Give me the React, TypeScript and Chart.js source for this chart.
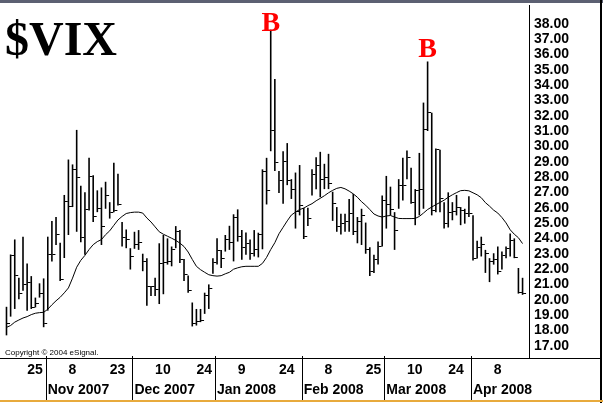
import React, { useEffect, useRef } from 'react';
import { Chart, registerables } from 'chart.js';

Chart.register(...registerables);

// ---- data (bar index 0 = 18 Oct 2007, daily bars to 17 Apr 2008) ----
const highs = [
  19.55, 22.96, 23.94, 21.44, 24.12, 22.38, 21.55, 20.15, 21.08, 21.4,
  24.12, 25.15, 25.4, 23.73, 26.84, 29.15, 28.83, 31.08, 27.44, 27.01,
  29.26, 28.12, 27.14, 27.33, 27.7, 26.37, 28.94, 28.23, 25.08, 24.59,
  23.37, 24.44, 24.55, 23.01, 22.72, 20.9, 21.44, 23.69, 24.23, 24.01,
  23.48, 24.81, 24.55, 22.66, 21.59, 19.83, 19.41, 19.41, 20.47, 21.01,
  22.72, 24.01, 23.26, 24.23, 24.83, 25.58, 25.9, 24.55, 24.4, 23.94,
  24.55, 24.38, 28.51, 29.26, 37.61, 34.4, 28.4, 29.69, 30.22, 27.87,
  28.3, 28.79, 26.0, 26.0, 28.51, 29.3, 29.65, 28.87, 29.52, 27.05,
  26.05, 25.62, 25.62, 26.58, 26.9, 25.4, 25.94, 25.04, 23.43, 22.94,
  23.8, 26.8, 28.08, 27.38, 25.72, 27.87, 29.26, 29.73, 28.62, 27.22,
  29.58, 32.86, 35.54, 32.2, 29.86, 29.79, 26.37, 27.01, 26.37, 26.84,
  26.05, 25.94, 26.75, 25.51, 23.86, 24.12, 23.26, 22.72, 23.04, 23.48,
  23.15, 23.48, 24.33, 24.01, 22.08, 21.44,
];

const lows = [
  17.69, 18.91, 19.41, 20.05, 20.6, 19.3, 19.41, 19.51, 20.15, 18.22,
  19.3, 22.51, 23.58, 21.23, 22.73, 24.23, 26.05, 24.44, 23.75, 22.94,
  25.83, 25.08, 25.72, 23.58, 25.94, 25.3, 25.72, 26.15, 23.48, 23.37,
  21.98, 23.33, 23.26, 21.87, 19.62, 20.26, 20.26, 19.73, 20.37, 22.3,
  22.19, 23.37, 22.4, 21.23, 20.47, 18.27, 18.33, 18.55, 19.09, 19.41,
  21.7, 22.3, 22.08, 23.15, 23.26, 22.51, 23.8, 22.62, 22.94, 22.62,
  22.83, 22.77, 23.3, 26.22, 29.69, 28.4, 26.97, 26.26, 27.48, 26.58,
  24.65, 25.51, 23.97, 24.82, 26.8, 27.22, 26.69, 27.22, 27.22, 25.15,
  24.44, 24.27, 24.44, 24.44, 24.23, 23.69, 23.58, 23.01, 21.55, 21.76,
  22.3, 23.48, 24.65, 25.51, 23.26, 25.94, 26.48, 27.87, 26.26, 24.87,
  25.51, 25.94, 31.01, 25.51, 25.72, 25.72, 24.65, 24.72, 25.19, 25.51,
  24.87, 24.97, 25.4, 22.56, 22.7, 22.83, 21.76, 21.16, 22.3, 21.66,
  21.98, 22.72, 22.83, 22.72, 20.41, 20.33,
];

const closes = [
  18.46, 22.9, 21.59, 20.41, 21.0, 21.12, 19.51, 19.77, 20.4, 18.48,
  22.98, 22.94, 24.29, 21.34, 26.41, 26.11, 28.47, 28.0, 24.05, 25.9,
  28.04, 25.45, 25.98, 24.81, 26.8, 25.72, 25.83, 26.22, 24.05, 23.95,
  22.83, 23.58, 23.75, 22.51, 20.9, 20.85, 20.69, 22.4, 22.45, 22.51,
  23.26, 24.48, 22.66, 21.66, 20.58, 18.44, 18.59, 18.66, 20.26, 20.76,
  22.45, 23.2, 22.72, 23.91, 23.75, 25.4, 24.12, 23.41, 23.65, 23.01,
  23.26, 24.23, 28.4, 27.12, 31.01, 28.98, 27.76, 29.05, 27.76, 27.22,
  25.77, 26.16, 24.1, 25.29, 28.19, 28.73, 27.87, 27.97, 27.59, 26.26,
  24.76, 24.97, 25.08, 25.62, 24.44, 25.08, 25.51, 23.26, 21.87, 22.62,
  23.48, 26.48, 26.22, 25.9, 24.55, 27.44, 27.44, 29.26, 26.37, 27.1,
  27.22, 31.08, 32.2, 25.8, 29.8, 26.6, 25.0, 25.68, 25.77, 26.0,
  25.83, 25.62, 25.62, 22.72, 23.4, 23.62, 23.04, 22.51, 22.62, 21.87,
  22.9, 23.37, 23.9, 22.77, 20.47, 20.4,
];

const movingAvg = [
  18.21, 18.33, 18.55, 18.69, 18.82, 18.91, 19.04, 19.13, 19.17, 19.19,
  19.39, 19.68, 19.94, 20.17, 20.46, 20.78, 21.42, 22.13, 22.58, 22.9,
  23.28, 23.6, 23.8, 23.93, 24.25, 24.5, 24.86, 25.21, 25.44, 25.63,
  25.69, 25.72, 25.72, 25.66, 25.34, 25.08, 24.76, 24.44, 24.28, 24.15,
  24.02, 23.88, 23.7, 23.48, 23.12, 22.64, 22.19, 21.97, 21.8, 21.64,
  21.58, 21.55, 21.58, 21.7, 21.8, 22.0, 22.09, 22.16, 22.19, 22.19,
  22.19, 22.19, 22.38, 22.77, 23.28, 23.73, 24.31, 24.73, 25.15, 25.53,
  25.72, 25.89, 25.98, 26.14, 26.27, 26.46, 26.62, 26.79, 26.98, 27.14,
  27.27, 27.33, 27.24, 27.09, 26.91, 26.69, 26.4, 26.17, 25.89, 25.6,
  25.47, 25.4, 25.47, 25.5, 25.4, 25.31, 25.3, 25.3, 25.3, 25.31,
  25.44, 25.66, 25.89, 26.05, 26.21, 26.35, 26.5, 26.69, 26.85, 26.99,
  27.12, 27.14, 27.11, 26.98, 26.85, 26.66, 26.34, 26.11, 25.85, 25.66,
  25.37, 25.02, 24.57, 24.28, 24.05, 23.67,
];

const dayTickIndex = [5, 15, 25, 36, 46, 56, 66, 77, 87, 97, 107, 118];
const dayTickLabels = ['25', '8', '23', '10', '24', '9', '24', '8', '25', '10', '24', '8'];
const monthStartIndex = [10, 31, 51, 72, 92, 113];
const monthLabels = ['Nov 2007', 'Dec 2007', 'Jan 2008', 'Feb 2008', 'Mar 2008', 'Apr 2008'];
const yTickValues = [17, 18, 19, 20, 21, 22, 23, 24, 25, 26, 27, 28, 29, 30, 31, 32, 33, 34, 35, 36, 37, 38];

const titleText = '$VIX';
const markerIndex = [64, 102];
const markerLevel = [37.55, 35.85];
const markerText = ['B', 'B'];
const copyrightText = 'Copyright © 2004 eSignal.';

// scale ranges
const X_MIN = -0.36;
const X_MAX = 126.56;
const Y_MIN = 16.213;
const Y_MAX = 39.221;

const SANS = "'Liberation Sans', Arial, sans-serif";
const SERIF = "'Liberation Serif', 'Times New Roman', serif";

const decorPlugin = {
  id: 'decor',
  afterDraw(chart: any) {
    const { ctx, scales, chartArea } = chart;
    const xs = scales.x;
    const ys = scales.y;
    const bottom = Math.round(chartArea.bottom);
    ctx.save();
    ctx.fillStyle = '#000';
    // line between plot and date panel
    ctx.fillRect(0, bottom, 601, 1);
    // month separators
    monthStartIndex.forEach((mi) => {
      const px = Math.round(xs.getPixelForValue(mi - 0.5));
      ctx.fillRect(px, bottom - 2, 1, 400 - bottom + 2);
    });
    // title
    ctx.textBaseline = 'alphabetic';
    ctx.textAlign = 'left';
    ctx.font = `bold 48px ${SERIF}`;
    ctx.fillText(titleText, 5, 55);
    // copyright
    ctx.font = `8px ${SANS}`;
    ctx.fillText(copyrightText, 5, 355);
    // B markers
    ctx.fillStyle = '#ff0000';
    ctx.font = `bold 28px ${SERIF}`;
    ctx.textAlign = 'center';
    markerIndex.forEach((mi, k) => {
      ctx.fillText(markerText[k], xs.getPixelForValue(mi), ys.getPixelForValue(markerLevel[k]));
    });
    // frame
    ctx.fillStyle = '#5c6072';
    ctx.fillRect(0, 0, 603, 3);
    ctx.fillStyle = '#000';
    ctx.fillRect(600, 0, 2, 403);
    ctx.fillStyle = '#e8aa3c';
    ctx.fillRect(0, 400, 603, 2);
    ctx.restore();
  },
};

export default function App() {
  const ref = useRef<HTMLCanvasElement>(null);

  useEffect(() => {
    const canvas = ref.current;
    if (!canvas) return;

    const tick = document.createElement('canvas');
    tick.width = 9;
    tick.height = 1;
    const tctx = tick.getContext('2d');
    if (tctx) {
      tctx.fillStyle = '#000';
      tctx.fillRect(5, 0, 3, 1);
    }

    const tickFont = { family: SANS, size: 14, weight: 'bold' as const };
    const noGrid = { display: false, drawTicks: false };

    const chart = new Chart(canvas, {
      type: 'bar',
      data: {
        datasets: [
          {
            type: 'line',
            label: 'Moving average',
            data: movingAvg.map((v, i) => ({ x: i, y: v })),
            borderColor: '#000',
            borderWidth: 1,
            pointRadius: 0,
            tension: 0,
            xAxisID: 'x',
            yAxisID: 'y',
          } as any,
          {
            type: 'line',
            label: 'Close',
            data: closes.map((v, i) => ({ x: i, y: v })),
            showLine: false,
            pointStyle: tick,
            pointRadius: 1,
            xAxisID: 'x',
            yAxisID: 'y',
          } as any,
          {
            type: 'bar',
            label: 'High-Low',
            data: highs.map((h, i) => ({ x: i, y: [lows[i], h] })),
            backgroundColor: '#000',
            borderWidth: 0,
            barThickness: 1.6,
            inflateAmount: 0,
            xAxisID: 'x',
            yAxisID: 'y',
          } as any,
        ],
      },
      options: {
        responsive: false,
        animation: false,
        devicePixelRatio: 1,
        events: [],
        layout: { padding: 0 },
        plugins: {
          legend: { display: false },
          tooltip: { enabled: false },
        },
        scales: {
          x: {
            type: 'linear',
            position: 'bottom',
            min: X_MIN,
            max: X_MAX,
            bounds: 'data',
            offset: false,
            weight: 0,
            grid: noGrid,
            border: { display: false },
            ticks: {
              autoSkip: false,
              maxRotation: 0,
              minRotation: 0,
              align: 'start',
              padding: 4,
              color: '#000',
              font: tickFont,
              callback: (v: any) => {
                const k = dayTickIndex.indexOf(Number(v));
                return k >= 0 ? dayTickLabels[k] : '';
              },
            },
            afterBuildTicks: (s: any) => {
              s.ticks = dayTickIndex.map((v) => ({ value: v }));
            },
            afterFit: (s: any) => {
              s.height = 20;
              s.paddingLeft = 0;
              s.paddingRight = 0;
            },
          } as any,
          xMonth: {
            type: 'linear',
            position: 'bottom',
            axis: 'x',
            min: X_MIN,
            max: X_MAX,
            bounds: 'data',
            offset: false,
            weight: 1,
            grid: noGrid,
            border: { display: false },
            ticks: {
              autoSkip: false,
              maxRotation: 0,
              minRotation: 0,
              align: 'start',
              padding: 4,
              labelOffset: 2,
              color: '#000',
              font: tickFont,
              callback: (_v: any, idx: number) => monthLabels[idx] ?? '',
            },
            afterBuildTicks: (s: any) => {
              s.ticks = monthStartIndex.map((v) => ({ value: v - 0.5 }));
            },
            afterFit: (s: any) => {
              s.height = 25;
              s.paddingLeft = 0;
              s.paddingRight = 0;
            },
          } as any,
          y: {
            type: 'linear',
            position: 'right',
            min: Y_MIN,
            max: Y_MAX,
            bounds: 'data',
            beginAtZero: false,
            grid: noGrid,
            border: { display: true, color: '#000', width: 1 },
            ticks: {
              autoSkip: false,
              padding: 5,
              color: '#000',
              font: tickFont,
              callback: (v: any) => Number(v).toFixed(2),
            },
            afterBuildTicks: (s: any) => {
              s.ticks = yTickValues.map((v) => ({ value: v }));
            },
            afterFit: (s: any) => {
              s.width = 74;
              s.paddingTop = 0;
              s.paddingBottom = 0;
            },
          } as any,
        },
      },
      plugins: [decorPlugin],
    });

    return () => chart.destroy();
  }, []);

  return (
    <div style={{ position: 'fixed', left: 0, top: 0, width: 603, height: 403, background: '#fff' }}>
      <canvas ref={ref} width={603} height={403} style={{ display: 'block', width: 603, height: 403 }} />
    </div>
  );
}
